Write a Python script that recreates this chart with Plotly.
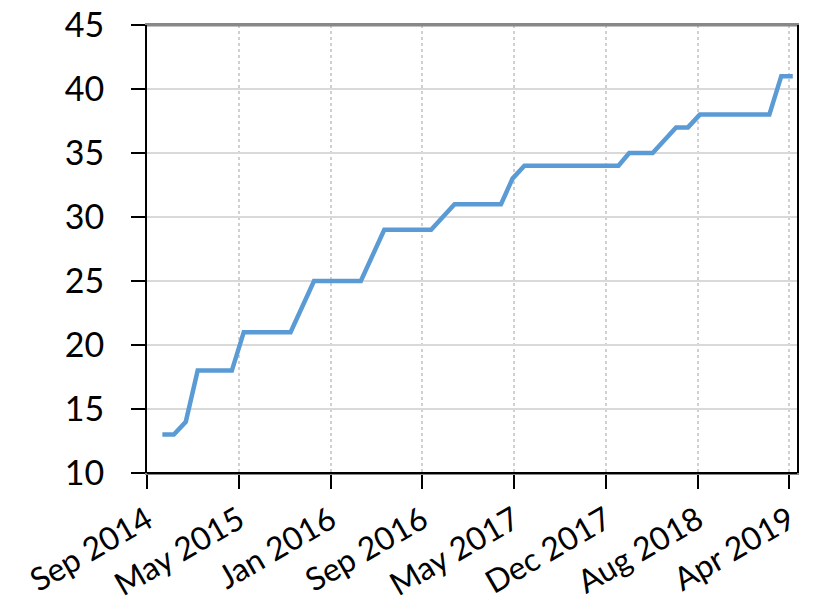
import plotly.graph_objects as go
import pandas as pd

# Data (vertices of the step-like line, monthly dates)
dates = ["2014-11-01", "2014-12-01", "2015-01-01", "2015-02-01", "2015-05-01",
         "2015-06-01", "2015-10-01", "2015-12-01", "2016-04-01", "2016-06-01",
         "2016-10-01", "2016-12-01", "2017-04-01", "2017-05-01", "2017-06-01",
         "2018-02-01", "2018-03-01", "2018-05-01", "2018-07-01", "2018-08-01",
         "2018-09-01", "2019-03-01", "2019-04-01", "2019-05-01"]
values = [13, 13, 14, 18, 18,
          21, 21, 25, 25, 29,
          29, 31, 31, 33, 34,
          34, 35, 35, 37, 37,
          38, 38, 41, 41]

# Axis ticks (date axis with a fixed major unit, as in the source)
tick_start = "2014-09-22"
tick_step_days = 239
n_ticks = 8
tick_labels = ["Sep 2014", "May 2015", "Jan 2016", "Sep 2016",
               "May 2017", "Dec 2017", "Aug 2018", "Apr 2019"]
x_range = ["2014-09-22", "2019-05-12"]
y_min, y_max = 10, 45
y_ticks = [10, 15, 20, 25, 30, 35, 40, 45]

tick_vals = [pd.Timestamp(tick_start) + pd.Timedelta(days=tick_step_days * i)
             for i in range(n_ticks)]

fig = go.Figure()
fig.add_trace(go.Scatter(
    x=pd.to_datetime(dates), y=values, mode="lines",
    line=dict(color="#5B9BD5", width=4.5),
    showlegend=False,
))

yfont = dict(family="Lato, 'Open Sans', sans-serif", size=34, color="#000000")
xfont = dict(family="Lato, 'Open Sans', sans-serif", size=32, color="#000000")

fig.update_layout(
    width=816, height=613,
    margin=dict(l=139, r=27, t=17, b=148),
    paper_bgcolor="white", plot_bgcolor="white",
    font=yfont,
    xaxis=dict(
        type="date", range=x_range, automargin=False,
        tickvals=tick_vals, ticktext=tick_labels,
        tickangle=-30, ticklabeloverflow="allow",
        showgrid=True, gridcolor="#d0d0d0", gridwidth=1.5, griddash="dot",
        showline=True, linecolor="#888888", linewidth=2, mirror=True,
        ticks="outside", ticklen=14, tickwidth=1.5, tickcolor="#000000",
        zeroline=False, tickfont=xfont,
    ),
    yaxis=dict(
        range=[y_min, y_max], tickvals=y_ticks, automargin=False,
        ticklabeloverflow="allow",
        showgrid=True, gridcolor="#d9d9d9", gridwidth=2,
        showline=True, linecolor="#000000", linewidth=2, mirror=True,
        ticks="outside", ticklen=14, tickwidth=1.5, tickcolor="#000000",
        zeroline=False, tickfont=yfont, ticklabelstandoff=20,
    ),
    shapes=[
        dict(type="line", xref="paper", yref="paper", x0=0, x1=1, y0=0, y1=0,
             layer="above", line=dict(color="#000000", width=2)),
        dict(type="line", xref="paper", yref="paper", x0=0, x1=1, y0=0.999, y1=0.999,
             layer="above", line=dict(color="#888888", width=2)),
    ],
)

fig.write_html("out.html")
